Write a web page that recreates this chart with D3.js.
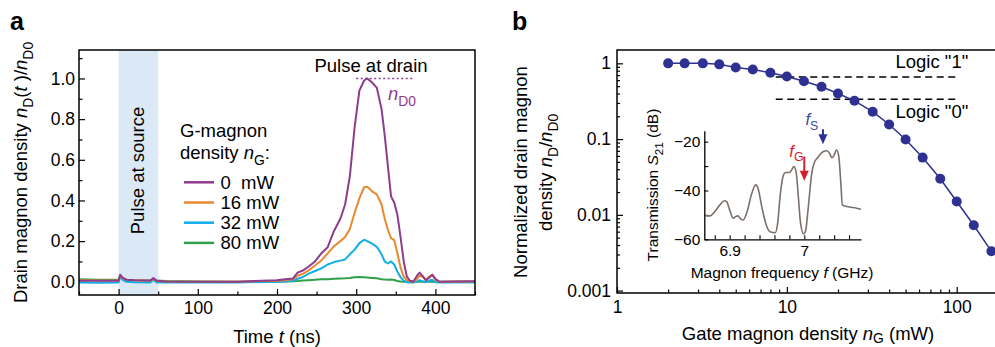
<!DOCTYPE html>
<html>
<head>
<meta charset="utf-8">
<script src="https://cdn.jsdelivr.net/npm/d3@7"></script>
<style>
  body { margin: 0; background: #fff; }
  svg { display: block; font-family: "Liberation Sans", Arial, Helvetica, sans-serif; }
</style>
</head>
<body>
<svg id="fig" width="995" height="347"></svg>
<script>
// ---- panel a: drain pulse traces ----
const timeNs = [-50, -25, 0, 2, 5, 10, 20, 40, 44, 48, 60, 100, 150, 200, 210, 220, 226, 232, 240, 248,
  256, 264, 272, 280, 286, 292, 298, 304, 310, 314, 320, 326, 332, 336, 340, 344, 348, 352, 356, 360,
  364, 368, 372, 376, 380, 384, 388, 392, 396, 400, 405, 420, 450];
const trace0mW = [0.005, 0.005, 0.005, 0.035, 0.02, 0.01, 0.008, 0.006, 0.018, 0.005,
  0.002, 0.0, 0.0, 0.008, 0.012, 0.016, 0.045, 0.054, 0.075, 0.10,
  0.14, 0.17, 0.25, 0.31, 0.38, 0.52, 0.76, 0.94, 0.99, 1.0,
  0.98, 0.955, 0.85, 0.72, 0.57, 0.42, 0.39, 0.33, 0.22, 0.10,
  0.025, 0.005, 0.0, 0.025, 0.045, 0.028, 0.008, 0.02, 0.035, 0.015,
  0.0, 0.002, 0.003];
const trace16mW = [0.008, 0.006, 0.006, 0.03, 0.018, 0.01, 0.008, 0.005, 0.015, 0.004,
  0.002, 0.0, 0.0, 0.005, 0.008, 0.012, 0.03, 0.038, 0.056, 0.08,
  0.105, 0.14, 0.175, 0.2, 0.22, 0.26, 0.34, 0.41, 0.465, 0.468,
  0.445, 0.43, 0.38, 0.31, 0.256, 0.215, 0.205, 0.14, 0.07, 0.025,
  0.008, 0.003, 0.0, 0.01, 0.03, 0.025, 0.008, 0.025, 0.033, 0.01,
  0.0, 0.0, 0.002];
const trace32mW = [-0.004, -0.005, -0.003, 0.025, 0.01, 0.0, -0.002, -0.003, 0.01, -0.003,
  -0.004, -0.003, -0.003, 0.0, 0.002, 0.005, 0.015, 0.022, 0.04, 0.053,
  0.066, 0.085, 0.097, 0.104, 0.11, 0.135, 0.158, 0.19, 0.207, 0.2,
  0.188, 0.172, 0.135, 0.1, 0.09, 0.1, 0.085, 0.05, 0.022, 0.005,
  -0.002, -0.004, -0.004, 0.0, 0.008, 0.002, -0.002, 0.005, 0.01, -0.002,
  -0.004, -0.003, -0.003];
const trace80mW = [0.012, 0.01, 0.01, 0.03, 0.015, 0.01, 0.008, 0.006, 0.012, 0.006,
  0.004, 0.002, 0.0, 0.0, 0.002, 0.003, 0.004, 0.006, 0.008, 0.01,
  0.012, 0.013, 0.015, 0.016, 0.017, 0.019, 0.022, 0.023, 0.022, 0.021,
  0.019, 0.017, 0.013, 0.011, 0.01, 0.011, 0.009, 0.004, 0.001, 0.0,
  0.0, 0.0, 0.0, 0.0, 0.0, 0.0, 0.0, 0.0, 0.0, 0.0,
  0.0, 0.0, 0.0];
const legendLabels = ["0  mW", "16 mW", "32 mW", "80 mW"];
const traceColors = ["#8e3c8d", "#e8892e", "#10aee8", "#2f9f4a"];
const timeTicks = [0, 100, 200, 300, 400];
const timeMinor = [-50, 50, 150, 250, 350, 450];
const ratioTicks = [0, 0.2, 0.4, 0.6, 0.8, 1.0];
const ratioMinor = [0.1, 0.3, 0.5, 0.7, 0.9, 1.1];
const sourcePulse = [0, 50];

// ---- panel b: drain density vs gate power ----
const gatePower = [2, 2.5, 3.2, 4, 5, 6.3, 8, 10, 12.6, 16, 20, 25, 32, 40, 50, 63, 80, 100, 126, 160];
const drainRatio = [1.0, 1.0, 1.0, 0.97, 0.88, 0.83, 0.75, 0.67, 0.58, 0.49,
  0.40, 0.32, 0.23, 0.156, 0.099, 0.057, 0.030, 0.015, 0.0073, 0.0033];
const logicLevels = [0.66, 0.336];
const logicLabels = ['Logic "1"', 'Logic "0"'];
const logicRange = [8.6, 100];
const powerTicks = [1, 10, 100];
const ratioLogTicks = [1, 0.1, 0.01, 0.001];

// ---- inset: transmission spectrum ----
const insetFreq = [6.867, 6.874, 6.880, 6.887, 6.893, 6.896, 6.900, 6.905, 6.908, 6.911,
  6.914, 6.918, 6.924, 6.929, 6.935, 6.938, 6.943, 6.949, 6.954, 6.961,
  6.964, 6.968, 6.972, 6.975, 6.980, 6.983, 6.986, 6.989, 6.992, 6.995,
  6.999, 7.002, 7.005, 7.010, 7.013, 7.019, 7.025, 7.030, 7.034, 7.037,
  7.040, 7.043, 7.046, 7.049, 7.051, 7.057, 7.066, 7.076];
const insetS21 = [-50.4, -50.4, -48.7, -45.9, -44.2, -44.6, -48.0, -51.4, -50.7, -50.4,
  -51.4, -52.1, -48.0, -41.8, -37.7, -39.1, -46.6, -54.1, -56.9, -57.3,
  -54.1, -41.2, -33.7, -32.6, -32.6, -31.6, -30.2, -32.3, -42.5, -53.4,
  -57.8, -56.2, -48.0, -33.0, -28.9, -26.1, -24.1, -23.7, -24.8, -26.6,
  -25.5, -23.4, -25.5, -37.1, -45.9, -46.6, -47.0, -47.7];
const freqTicks = [6.9, 7.0];
const freqMinor = [6.88, 6.92, 6.94, 6.96, 6.98, 7.02, 7.04, 7.06];
const s21Ticks = [-20, -40, -60];
const s21Minor = [-30, -50];
const sourceFreq = 7.025;
const gateFreq = 7.0;

const svg = d3.select("#fig");
const FONT = 18.5, TICK = 17.5, INSET = 15.5;

// text with italic symbols and subscripts
function rich(sel, parts, size, subShift = 0.3) {
  let shift = 0;
  parts.forEach(p => {
    const ts = sel.append("tspan").text(p.t);
    const target = p.sub ? size * subShift : 0;
    if (target !== shift) { ts.attr("dy", target - shift); shift = target; }
    ts.attr("font-size", p.sub ? size * 0.75 : size);
    if (p.it) ts.attr("font-style", "italic");
  });
  return sel;
}

function styleAxis(g) {
  g.select(".domain").remove();
  g.selectAll(".tick line").attr("stroke", "#000").attr("stroke-width", 1.2);
  g.selectAll(".tick text").attr("fill", "#000");
}

// ================= panel a =================
const xa = d3.scaleLinear().domain([-50, 450]).range([79, 475]);
const ya = d3.scaleLinear().domain([-0.065, 1.14]).range([295, 50]);

svg.append("rect")
  .attr("x", xa(sourcePulse[0])).attr("y", 50)
  .attr("width", xa(sourcePulse[1]) - xa(sourcePulse[0])).attr("height", 245)
  .attr("fill", "#dbe8f5");

svg.append("g").attr("transform", "translate(0,295)")
  .call(d3.axisBottom(xa).tickValues(timeTicks).tickSize(-6).tickPadding(7))
  .call(styleAxis).selectAll("text").attr("font-size", TICK);
svg.append("g").attr("transform", "translate(0,295)")
  .call(d3.axisBottom(xa).tickValues(timeMinor).tickSize(-3.5).tickFormat(""))
  .call(styleAxis);
svg.append("g").attr("transform", "translate(79,0)")
  .call(d3.axisLeft(ya).tickValues(ratioTicks).tickSize(-6).tickPadding(4).tickFormat(d3.format(".1f")))
  .call(styleAxis).selectAll("text").attr("font-size", TICK);
svg.append("g").attr("transform", "translate(79,0)")
  .call(d3.axisLeft(ya).tickValues(ratioMinor).tickSize(-3.5).tickFormat(""))
  .call(styleAxis);

const traces = [trace80mW, trace32mW, trace16mW, trace0mW];
const traceCols = [traceColors[3], traceColors[2], traceColors[1], traceColors[0]];
const lineA = d3.line().x((d, i) => xa(timeNs[i])).y(d => ya(d));
svg.append("g").selectAll("path").data(traces).join("path")
  .attr("d", lineA).attr("fill", "none")
  .attr("stroke", (d, i) => traceCols[i]).attr("stroke-width", 2).attr("stroke-linejoin", "round");

svg.append("rect").attr("x", 79).attr("y", 50).attr("width", 396).attr("height", 245)
  .attr("fill", "none").attr("stroke", "#000").attr("stroke-width", 1.5);

// n_D0 reference
svg.append("line").attr("x1", xa(300)).attr("x2", xa(372)).attr("y1", ya(1.0)).attr("y2", ya(1.0))
  .attr("stroke", traceColors[0]).attr("stroke-width", 1.5).attr("stroke-dasharray", "2,2.5");
svg.append("text").attr("x", 371).attr("y", 71.5).attr("text-anchor", "middle")
  .attr("font-size", FONT).text("Pulse at drain");
rich(svg.append("text").attr("x", 388).attr("y", 100).attr("fill", traceColors[0]),
  [{ t: "n", it: true }, { t: "D0", sub: true }], FONT);

svg.append("text").attr("transform", "translate(144,170.5) rotate(-90)")
  .attr("text-anchor", "middle").attr("font-size", FONT).text("Pulse at source");

// legend
svg.append("text").attr("x", 180).attr("y", 137).attr("font-size", FONT).text("G-magnon");
rich(svg.append("text").attr("x", 180).attr("y", 159),
  [{ t: "density " }, { t: "n", it: true }, { t: "G", sub: true }, { t: ":" }], FONT);
const leg = svg.append("g").selectAll("g").data(legendLabels).join("g")
  .attr("transform", (d, i) => `translate(0,${182.3 + i * 20.2})`);
leg.append("line").attr("x1", 184).attr("x2", 214)
  .attr("stroke", (d, i) => traceColors[i]).attr("stroke-width", 2.5);
leg.append("text").attr("x", 220.5).attr("y", 6.5).attr("font-size", FONT)
  .style("white-space", "pre").text(d => d);

rich(svg.append("text").attr("transform", "translate(27,172.5) rotate(-90)").attr("text-anchor", "middle"),
  [{ t: "Drain magnon density " }, { t: "n", it: true }, { t: "D", sub: true }, { t: "(" },
   { t: "t", it: true }, { t: " )/" }, { t: "n", it: true }, { t: "D0", sub: true }], FONT);
rich(svg.append("text").attr("x", 277).attr("y", 343).attr("text-anchor", "middle"),
  [{ t: "Time " }, { t: "t", it: true }, { t: " (ns)" }], FONT);

svg.append("text").attr("x", 10).attr("y", 30).attr("font-size", 25).attr("font-weight", "bold").text("a");
svg.append("text").attr("x", 512).attr("y", 30).attr("font-size", 25).attr("font-weight", "bold").text("b");

// ================= panel b =================
const xb = d3.scaleLog().domain([1, 168]).range([617, 995]);
const yb = d3.scaleLog().domain([0.00093, 1.5]).range([293, 50]);
const fmtLog = d => String(+d.toPrecision(1));

svg.append("g").attr("transform", "translate(0,293)")
  .call(d3.axisBottom(xb).tickValues(powerTicks).tickSize(-6).tickPadding(8).tickFormat(fmtLog))
  .call(styleAxis).selectAll("text").attr("font-size", TICK);
svg.append("g").attr("transform", "translate(0,293)")
  .call(d3.axisBottom(xb).tickValues(xb.ticks().filter(t => powerTicks.indexOf(t) < 0)).tickSize(-3.5).tickFormat(""))
  .call(styleAxis);
svg.append("g").attr("transform", "translate(617,0)")
  .call(d3.axisLeft(yb).tickValues(ratioLogTicks).tickSize(-6).tickPadding(6).tickFormat(fmtLog))
  .call(styleAxis).selectAll("text").attr("font-size", TICK);
svg.append("g").attr("transform", "translate(617,0)")
  .call(d3.axisLeft(yb).tickValues(yb.ticks().filter(t => ratioLogTicks.indexOf(+t.toPrecision(1)) < 0)).tickSize(-3).tickFormat(""))
  .call(styleAxis);
svg.append("path").attr("d", "M995,50H617V293H995").attr("fill", "none")
  .attr("stroke", "#000").attr("stroke-width", 1.5);

svg.append("g").selectAll("line").data(logicLevels).join("line")
  .attr("x1", xb(logicRange[0])).attr("x2", xb(logicRange[1]))
  .attr("y1", d => yb(d)).attr("y2", d => yb(d))
  .attr("stroke", "#000").attr("stroke-width", 1.5).attr("stroke-dasharray", "7,4.5");
svg.append("g").selectAll("text").data(logicLabels).join("text")
  .attr("x", 895.5).attr("y", (d, i) => [68.3, 118.3][i]).attr("font-size", FONT).text(d => d);

const blue = "#2e3192";
svg.append("path").datum(drainRatio)
  .attr("d", d3.line().x((d, i) => xb(gatePower[i])).y(d => yb(d)))
  .attr("fill", "none").attr("stroke", blue).attr("stroke-width", 1.5);
svg.append("g").selectAll("circle").data(drainRatio).join("circle")
  .attr("cx", (d, i) => xb(gatePower[i])).attr("cy", d => yb(d)).attr("r", 5).attr("fill", blue);

rich(svg.append("text").attr("transform", "translate(527,172) rotate(-90)").attr("text-anchor", "middle"),
  [{ t: "Normalized drain magnon" }], FONT);
rich(svg.append("text").attr("transform", "translate(552,172.5) rotate(-90)").attr("text-anchor", "middle"),
  [{ t: "density " }, { t: "n", it: true }, { t: "D", sub: true }, { t: "/" }, { t: "n", it: true }, { t: "D0", sub: true }], FONT);
// the reference crops this label at the bottom edge; keep it just inside
rich(svg.append("text").attr("x", 808).attr("y", 340).attr("text-anchor", "middle"),
  [{ t: "Gate magnon density " }, { t: "n", it: true }, { t: "G", sub: true }, { t: " (mW)" }], FONT, 0.18);

// ================= inset =================
const xi = d3.scaleLinear().domain([6.866, 7.076]).range([704.3, 861]);
const yi = d3.scaleLinear().domain([-60, -15.5]).range([239.3, 130.7]);

function insetAxis(g) {
  g.select(".domain").attr("stroke", "#000").attr("stroke-width", 1.3);
  g.selectAll(".tick line").attr("stroke", "#000").attr("stroke-width", 1.1);
  g.selectAll(".tick text").attr("fill", "#000").attr("font-size", INSET);
}
svg.append("g").attr("transform", "translate(0,239.3)")
  .call(d3.axisBottom(xi).tickValues(freqTicks.concat(freqMinor)).tickSize(-4).tickSizeOuter(0).tickPadding(6)
    .tickFormat(d => freqTicks.indexOf(d) >= 0 ? String(d === 7 ? 7 : d) : ""))
  .call(insetAxis);
svg.append("g").attr("transform", "translate(704.3,0)")
  .call(d3.axisLeft(yi).tickValues(s21Ticks.concat(s21Minor)).tickSize(-4).tickSizeOuter(0).tickPadding(4)
    .tickFormat(d => s21Ticks.indexOf(d) >= 0 ? d3.format("d")(d) : ""))
  .call(insetAxis);

svg.append("path").datum(insetS21)
  .attr("d", d3.line().x((d, i) => xi(insetFreq[i])).y(d => yi(d)).curve(d3.curveMonotoneX))
  .attr("fill", "none").attr("stroke", "#7c706a").attr("stroke-width", 1.6);

function arrow(f, top, tip, color) {
  const x = xi(f), y0 = yi(top), y1 = yi(tip);
  svg.append("line").attr("x1", x).attr("x2", x).attr("y1", y0).attr("y2", y1 - 8)
    .attr("stroke", color).attr("stroke-width", 2);
  svg.append("path").attr("d", `M${x - 4.5},${y1 - 10}L${x + 4.5},${y1 - 10}L${x},${y1}Z`).attr("fill", color);
}
arrow(sourceFreq, -14.9, -21.1, blue);
arrow(gateFreq, -26.1, -36, "#d4202a");
rich(svg.append("text").attr("x", 805.5).attr("y", 125).attr("fill", "#3b49a3"),
  [{ t: "f", it: true }, { t: "S", sub: true }], INSET + 1);
rich(svg.append("text").attr("x", 789.3).attr("y", 156.5).attr("fill", "#d4202a"),
  [{ t: "f", it: true }, { t: "G", sub: true }], INSET + 1);

rich(svg.append("text").attr("transform", "translate(658,185) rotate(-90)").attr("text-anchor", "middle"),
  [{ t: "Transmission " }, { t: "S", it: true }, { t: "21", sub: true }, { t: " (dB)" }], INSET);
rich(svg.append("text").attr("x", 782).attr("y", 277.5).attr("text-anchor", "middle"),
  [{ t: "Magnon frequency " }, { t: "f", it: true }, { t: " (GHz)" }], INSET);
</script>
</body>
</html>
